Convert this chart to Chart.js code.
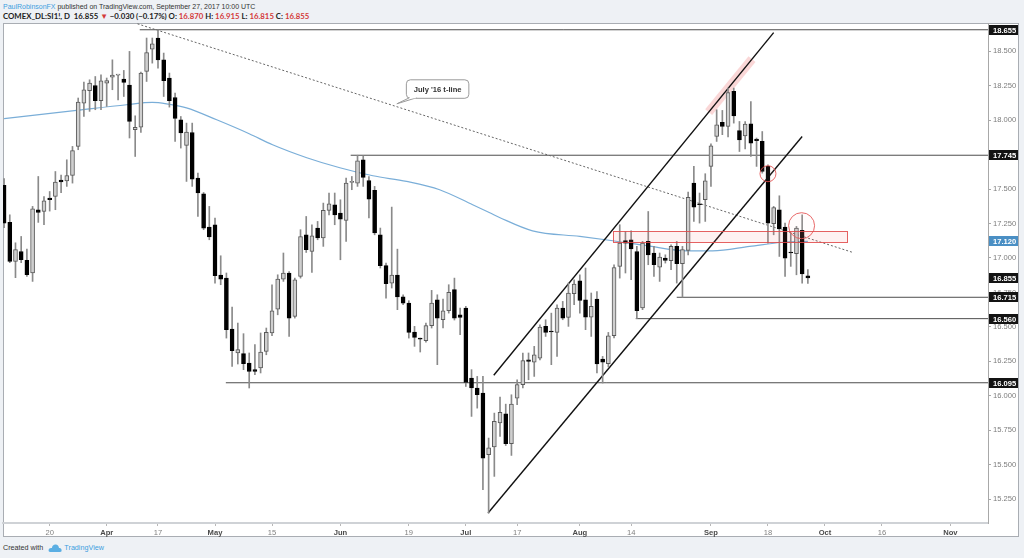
<!DOCTYPE html>
<html>
<head>
<meta charset="utf-8">
<script src="https://cdn.jsdelivr.net/npm/chart.js@4.4.1/dist/chart.umd.min.js"></script>
<style>
html, body { margin: 0; padding: 0; background: #eef1f5; }
body { width: 1024px; height: 558px; position: relative; overflow: hidden; font-family: "Liberation Sans", Arial, sans-serif; }
#frame { position: absolute; left: 3px; top: 23px; width: 1016px; height: 514px; background: #fff; border: 1px solid #a9adb3; box-sizing: border-box; }
#chart { position: absolute; left: 0; top: 0; }
.hdr { position: absolute; left: 3px; font-size: 7px; line-height: 9px; color: #333; white-space: nowrap; }
.l1 { top: 2px; }
.l2 { top: 12px; font-family: Lato, "Liberation Sans", sans-serif; font-weight: bold; font-size: 7.8px; color: #222; }
.blue { color: #3d9ee0; }
.red { color: #d43a3a; }
#foot { position: absolute; left: 3px; top: 543px; font-size: 7.2px; line-height: 10px; color: #333; white-space: nowrap; }
#foot svg { vertical-align: middle; margin: 0 2px 0 3px; }
</style>
</head>
<body>
<div id="frame"></div>
<div class="hdr l1"><span class="blue">PaulRobinsonFX</span> published on TradingView.com, September 27, 2017 10:00 UTC</div>
<div class="hdr l2">COMEX_DL:SI1!, D&nbsp; 16.855 <span class="red">▼</span> −0.030 (−0.17%) O: <span class="red">16.870</span> H: <span class="red">16.915</span> L: <span class="red">16.815</span> C: <span class="red">16.855</span></div>
<div id="foot">Created with <svg width="14" height="8" viewBox="0 0 14 8"><path d="M2 8 L12 8 Q14 8 13.5 5.5 Q13 3.5 11 4 Q10.5 0 7 0.5 Q4 1 4 4 Q1 3.5 0.5 6 Q0.5 8 2 8 Z" fill="#5aaee3"/></svg><span class="blue">TradingView</span></div>
<canvas id="chart" width="1024" height="558"></canvas>
<script>
// daily candles, index 0 = first visible bar (Mar 8), 141 = Sep 27
const opens = [17.526,17.258,16.975,17.047,16.982,16.891,17.350,17.337,17.434,17.446,17.565,17.558,17.598,17.809,18.123,18.213,18.251,18.140,18.268,18.312,
  18.326,18.297,18.254,17.930,17.949,18.353,18.515,18.595,18.437,18.305,18.164,18.002,17.816,17.910,17.580,17.466,17.224,17.241,16.876,16.854,
  16.485,16.311,16.306,16.238,16.190,16.202,16.322,16.456,16.629,16.847,16.891,16.576,16.866,17.168,17.047,17.217,17.145,17.345,17.386,17.326,
  17.272,17.548,17.543,17.712,17.562,17.490,17.168,16.944,16.818,16.876,16.719,16.673,16.463,16.417,16.400,16.509,16.697,16.552,16.617,16.770,
  16.588,16.637,16.129,16.057,16.020,15.573,15.629,15.803,15.870,15.653,15.984,16.081,16.262,16.245,16.274,16.504,16.470,16.460,16.637,16.569,
  16.741,16.835,16.697,16.571,16.702,16.267,16.233,16.436,16.939,17.127,17.132,17.047,16.637,17.120,17.036,16.934,16.999,16.980,17.084,16.958,
  17.055,17.543,17.393,17.422,17.664,17.881,17.983,17.954,18.208,17.923,17.886,17.973,17.862,17.845,17.664,17.248,17.350,17.224,17.040,17.031,
  17.200,16.870];
const highs = [17.575,17.313,17.110,17.156,17.064,17.374,17.591,17.446,17.482,17.627,17.601,17.712,17.809,18.160,18.276,18.292,18.316,18.329,18.305,18.437,
  18.330,18.360,18.498,18.031,18.348,18.595,18.595,18.655,18.486,18.341,18.196,18.026,17.978,17.978,17.616,17.475,17.374,17.290,17.016,16.891,
  16.644,16.528,16.451,16.311,16.371,16.456,16.492,16.806,16.878,17.036,16.902,16.854,17.205,17.301,17.241,17.265,17.398,17.471,17.471,17.422,
  17.580,17.591,17.745,17.740,17.591,17.519,17.217,16.963,17.369,17.064,16.733,16.690,16.504,16.419,16.528,16.765,16.733,16.702,16.806,16.854,
  16.637,16.649,16.190,16.141,16.141,15.694,15.875,15.991,15.940,16.008,16.117,16.311,16.311,16.359,16.516,16.552,16.600,16.661,16.685,16.818,
  16.842,16.878,16.927,16.746,16.757,16.286,16.460,16.951,17.241,17.192,17.197,17.084,17.120,17.337,17.084,17.036,17.023,17.096,17.120,17.084,
  17.478,17.664,17.471,17.611,17.828,18.075,18.070,18.232,18.232,17.990,17.990,18.135,17.870,17.917,17.676,17.374,17.451,17.253,17.181,17.229,
  17.313,16.915];
const lows = [17.220,16.966,16.857,16.966,16.866,16.830,17.258,17.241,17.340,17.350,17.473,17.519,17.543,17.785,18.026,18.063,18.075,18.075,18.099,18.220,
  18.147,18.171,17.870,17.736,17.910,18.280,18.413,18.377,18.171,18.094,17.845,17.797,17.555,17.519,17.301,17.205,17.132,16.818,16.806,16.419,
  16.213,16.231,16.190,16.057,16.153,16.166,16.298,16.436,16.588,16.830,16.431,16.564,16.854,17.040,16.895,17.132,17.084,17.313,17.241,16.987,
  17.120,17.495,17.519,17.519,17.290,17.168,16.927,16.709,16.782,16.625,16.661,16.419,16.359,16.318,16.390,16.492,16.226,16.492,16.600,16.550,
  16.443,16.068,15.851,15.911,15.319,15.150,15.416,15.706,15.640,15.568,15.936,16.057,16.117,16.141,16.260,16.431,16.226,16.286,16.552,16.504,
  16.661,16.600,16.480,16.431,16.166,16.093,16.210,16.420,16.854,16.891,16.842,16.560,16.625,16.951,16.866,16.830,16.963,16.915,16.818,16.715,
  17.023,17.265,17.253,17.265,17.519,17.845,17.894,17.877,17.978,17.772,17.790,17.736,17.664,17.615,17.108,17.168,17.011,16.866,16.939,16.878,
  16.818,16.815];
const closes = [17.253,16.975,17.060,16.987,16.878,17.357,17.330,17.415,17.422,17.551,17.551,17.598,17.778,18.131,18.220,18.268,18.140,18.285,18.287,18.326,
  18.330,18.273,17.990,17.947,18.341,18.490,18.553,18.437,18.285,18.140,18.012,17.906,17.913,17.572,17.471,17.217,17.152,16.871,16.847,16.480,
  16.327,16.335,16.233,16.177,16.177,16.318,16.460,16.617,16.847,16.891,16.564,16.842,17.156,17.060,17.161,17.145,17.345,17.393,17.313,17.282,
  17.543,17.551,17.705,17.584,17.427,17.181,16.944,16.813,16.876,16.717,16.673,16.460,16.424,16.412,16.509,16.673,16.564,16.617,16.750,16.564,
  16.569,16.097,16.057,16.008,15.549,15.624,15.815,15.880,15.653,15.941,16.081,16.255,16.250,16.298,16.499,16.460,16.463,16.637,16.564,16.746,
  16.811,16.692,16.571,16.649,16.231,16.245,16.436,16.931,17.108,17.108,17.065,16.617,17.108,17.023,16.951,17.007,16.982,17.084,16.958,17.060,
  17.439,17.369,17.386,17.560,17.814,17.966,17.954,18.200,18.031,17.857,17.971,17.833,17.850,17.627,17.253,17.366,17.210,16.999,17.036,17.217,
  16.885,16.855];

// time axis: bar index of each date label
const xTickPos = [8, 18, 27, 37, 47, 59, 71, 81, 90, 101, 110, 124, 134, 144, 154, 166];
const xTickLabels = ['20', 'Apr', '17', 'May', '15', 'Jun', '19', 'Jul', '17', 'Aug', '14', 'Sep', '18', 'Oct', '16', 'Nov'];
const months = ['Apr', 'May', 'Jun', 'Jul', 'Aug', 'Sep', 'Oct', 'Nov'];
const yTicks = [15.25, 15.5, 15.75, 16.0, 16.25, 16.5, 16.75, 17.0, 17.25, 17.5, 17.75, 18.0, 18.25, 18.5];

// 200-day moving average, read at a few bars
const smaK = [0, 12.7, 21.5, 26, 28.5, 32, 37.3, 43, 47.1, 53.1, 58.9, 64.7, 70.6, 76.4, 82.2, 85.2, 87, 92.7, 101, 106.8, 112.7, 119.8, 124.3, 130.8, 136.6, 141];
const smaV = [18.010, 18.070, 18.111, 18.128, 18.118, 18.089, 18.002, 17.901, 17.821, 17.727, 17.654, 17.596, 17.555, 17.495, 17.386, 17.328, 17.292, 17.197, 17.156, 17.125, 17.089, 17.052, 17.052, 17.084, 17.114, 17.120];

// horizontal levels and where they start
const levels = [18.655, 17.745, 16.715, 16.560, 16.095];
const levelStart = [23.8, 60.8, 118.0, 110.8, 38.9];

const tlineK = [23.4, 148.9], tlineV = [18.698, 17.040];
const chanUpK = [85.9, 135.0], chanUpV = [16.149, 18.634];
const chanLoK = [84.9, 140.0], chanLoV = [15.150, 17.881];
const bandK = [123.6, 131.2], bandV = [18.057, 18.442];
const zoneK = [106.9, 148.0], zoneV = [17.114, 17.194];
const circK = [134.0, 139.9], circV = [17.611, 17.234];
const calloutK = 68.9, calloutV = 18.118, calloutText = "July '16 t-line";

const tagValues = [18.655, 17.745, 17.120, 16.855, 16.715, 16.560, 16.095];
const tagColors = ['#131313', '#131313', '#4a8fc4', '#131313', '#131313', '#131313', '#131313'];

const xMin = -0.19, xMax = 172.6;
const FONT = '"Liberation Sans", Arial, sans-serif';

const idx = opens.map((_, i) => i);
const isUp = idx.map(i => closes[i] >= opens[i]);

const pts = (ks, vs) => ks.map((k, i) => ({ x: k, y: vs[i] }));

const levelSets = levels.map((v, i) => ({
    type: 'line',
    data: [{ x: levelStart[i], y: v }, { x: xMax, y: v }],
    borderColor: '#4d4d4d', borderWidth: 1, pointRadius: 0, order: 6
}));

const overlay = {
    id: 'overlay',
    afterDatasetsDraw(chart) {
        const { ctx, scales: { x, y } } = chart;
        // resistance zone
        const x0 = x.getPixelForValue(zoneK[0]), x1 = x.getPixelForValue(zoneK[1]);
        const y0 = y.getPixelForValue(zoneV[1]), y1 = y.getPixelForValue(zoneV[0]);
        ctx.save();
        ctx.fillStyle = 'rgba(245,120,120,0.10)';
        ctx.fillRect(x0, y0, x1 - x0, y1 - y0);
        ctx.strokeStyle = 'rgba(225,70,70,0.85)';
        ctx.lineWidth = 1;
        ctx.strokeRect(Math.round(x0) + 0.5, Math.round(y0) + 0.5, Math.round(x1 - x0), Math.round(y1 - y0));

        // callout
        const ax = x.getPixelForValue(calloutK), ay = y.getPixelForValue(calloutV);
        const bx = ax + 9.5, by = ay - 24, bw = 62.5, bh = 18.5;
        ctx.fillStyle = '#fff';
        ctx.strokeStyle = '#9a9a9a';
        ctx.beginPath();
        ctx.roundRect(bx, by, bw, bh, 4);
        ctx.fill();
        ctx.stroke();
        ctx.beginPath();
        ctx.moveTo(bx + 3, by + bh - 0.5);
        ctx.lineTo(ax, ay);
        ctx.lineTo(bx + 10, by + bh - 0.5);
        ctx.fill();
        ctx.stroke();
        ctx.fillRect(bx + 3.5, by + bh - 2, 6, 2);
        ctx.fillStyle = '#333';
        ctx.font = 'bold 7.6px ' + FONT;
        ctx.textAlign = 'center';
        ctx.textBaseline = 'middle';
        ctx.fillText(calloutText, bx + bw / 2, by + bh / 2 + 0.5);
        ctx.restore();
    },
    afterDraw(chart) {
        const { ctx, scales: { y } } = chart;
        ctx.save();
        ctx.font = 'bold 7.6px ' + FONT;
        ctx.textBaseline = 'middle';
        tagValues.forEach((v, i) => {
            const py = Math.round(y.getPixelForValue(v));
            ctx.fillStyle = tagColors[i];
            ctx.fillRect(989, py - 5, 29, 10);
            ctx.fillStyle = '#fff';
            ctx.fillText(v.toFixed(3), 993, py + 0.5);
        });
        ctx.restore();
    }
};

new Chart(document.getElementById('chart'), {
    type: 'bar',
    data: {
        datasets: [
            {
                type: 'bar',
                data: idx.map(i => ({ x: i, y: [opens[i], closes[i]] })),
                backgroundColor: idx.map(i => isUp[i] ? '#cfcfcf' : '#000'),
                borderColor: idx.map(i => isUp[i] ? '#5a5a5a' : '#000'),
                borderWidth: 1,
                borderSkipped: false,
                barThickness: 4,
                minBarLength: 1,
                grouped: false,
                order: 1
            },
            {
                type: 'bar',
                data: idx.map(i => ({ x: i, y: [lows[i], highs[i]] })),
                backgroundColor: '#8a8a8a',
                barThickness: 1,
                grouped: false,
                order: 2
            },
            {
                type: 'line',
                data: pts(smaK, smaV),
                borderColor: '#7aaed8', borderWidth: 1.2, pointRadius: 0,
                cubicInterpolationMode: 'monotone', order: 7
            },
            ...levelSets,
            {
                type: 'line', data: pts(tlineK, tlineV),
                borderColor: '#666', borderWidth: 1, borderDash: [2, 2], pointRadius: 0, order: 5
            },
            {
                type: 'line', data: pts(bandK, bandV),
                borderColor: 'rgba(240,140,140,0.35)', borderWidth: 9, borderCapStyle: 'butt', pointRadius: 0, order: 8
            },
            {
                type: 'line', data: pts(chanUpK, chanUpV),
                borderColor: '#111', borderWidth: 1.4, pointRadius: 0, order: 4
            },
            {
                type: 'line', data: pts(chanLoK, chanLoV),
                borderColor: '#111', borderWidth: 1.4, pointRadius: 0, order: 4
            },
            {
                type: 'line', data: pts(circK, circV), showLine: false,
                pointRadius: [8, 13], pointBorderColor: 'rgba(228,80,80,0.85)', pointBorderWidth: 1,
                pointBackgroundColor: 'rgba(255,200,200,0.06)', order: 0
            }
        ]
    },
    options: {
        responsive: false,
        animation: false,
        devicePixelRatio: 1,
        layout: { autoPadding: false, padding: { left: 3, top: 23, right: 0, bottom: 21 } },
        plugins: { legend: { display: false }, tooltip: { enabled: false } },
        scales: {
            x: {
                type: 'linear', min: xMin, max: xMax, offset: false,
                afterFit: s => { s.height = 14; s.paddingLeft = 0; s.paddingRight = 0; },
                afterBuildTicks: s => { s.ticks = xTickPos.map(v => ({ value: v })); },
                grid: { drawOnChartArea: false, offset: false, tickLength: 3, color: '#b8b8b8' },
                border: { color: '#cfd2d6', width: 2 },
                ticks: {
                    autoSkip: false, maxRotation: 0, padding: 2,
                    callback: (v, i) => xTickLabels[i],
                    font: c => ({ family: FONT, size: 7.6, weight: months.includes(xTickLabels[c.index]) ? 'bold' : 'normal' }),
                    color: c => months.includes(xTickLabels[c.index]) ? '#4a4a4a' : '#808080'
                }
            },
            y: {
                position: 'right', min: 15.078, max: 18.704, beginAtZero: false,
                afterFit: s => { s.width = 36; s.paddingTop = 0; s.paddingBottom = 0; },
                afterBuildTicks: s => { s.ticks = yTicks.map(v => ({ value: v })); },
                grid: { drawOnChartArea: false, tickLength: 3, color: '#a8a8a8' },
                border: { color: '#a8a8a8', width: 1 },
                ticks: {
                    padding: 2, color: '#7c7c7c',
                    font: { family: FONT, size: 7.6 },
                    callback: v => v.toFixed(3)
                }
            }
        }
    },
    plugins: [overlay]
});
</script>
</body>
</html>
